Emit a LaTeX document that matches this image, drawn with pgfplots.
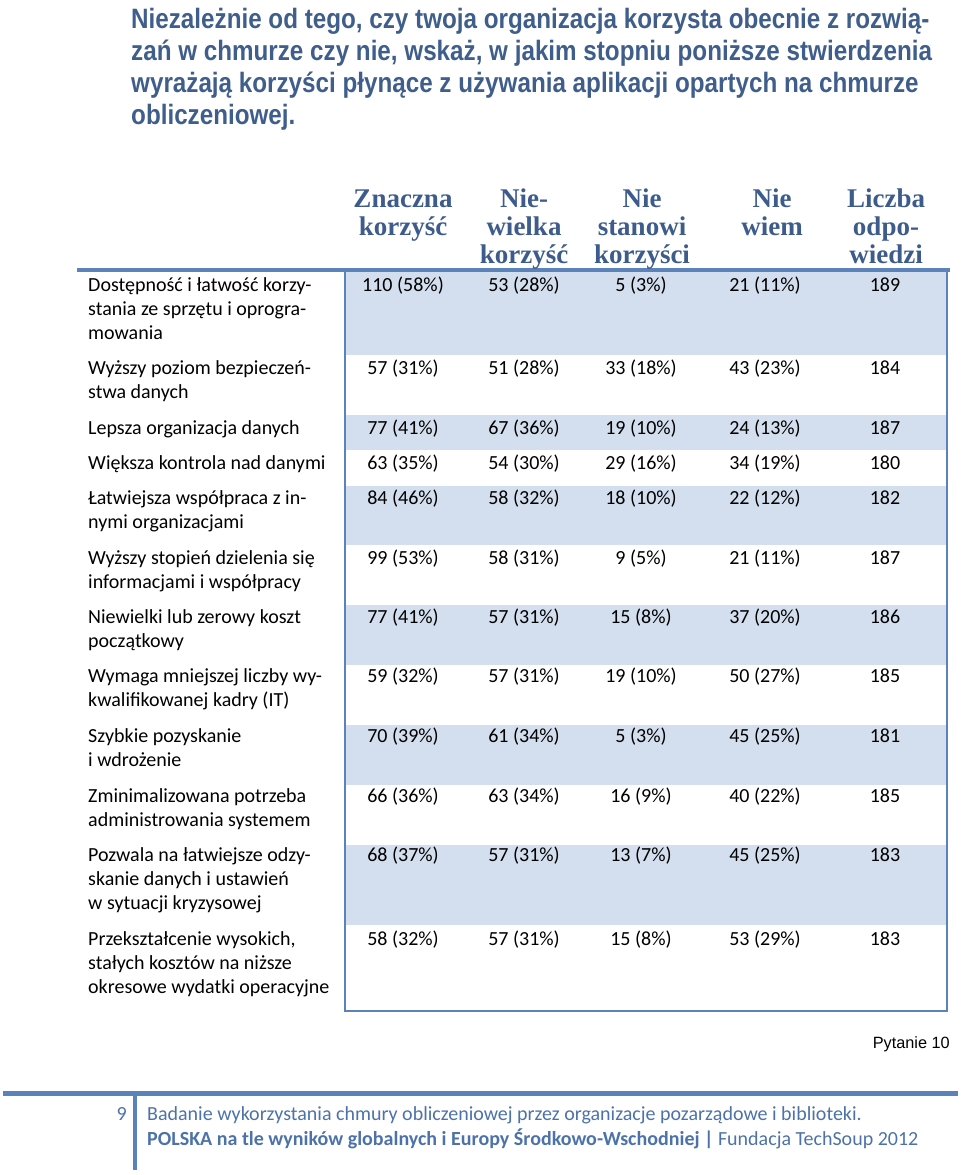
\documentclass[border=0pt]{standalone}
\usepackage{pgfplots}
\usepackage{pgfplotstable}
\pgfplotsset{compat=1.18}
\usepackage{fontspec}
\setmainfont{Carlito}
\newfontfamily\titlefont[FakeStretch=0.865]{Liberation Sans}
\newfontfamily\headfont{Liberation Serif}
\newfontfamily\arialfont{Liberation Sans}
\definecolor{titleblue}{HTML}{3F5E8C}
\definecolor{headblue}{HTML}{3D5C8C}
\definecolor{lineblue}{HTML}{5B83BA}
\definecolor{shade}{HTML}{D3DFEE}
\definecolor{footblue}{HTML}{4C72A9}
\newcommand\tabfont{\fontsize{20}{24}\selectfont}
\newcommand\hfont{\headfont\bfseries\fontsize{27}{28}\selectfont\color{headblue}}
\newcommand\tfont{\titlefont\bfseries\fontsize{28}{32}\selectfont\color{titleblue}}
\newcommand\pn[1]{\pgfmathprintnumber[fixed,precision=0]{#1}}
\pgfplotstableread{
y   n1  p1  n2  p2  n3  p3  n4  p4  tot
291 110 58  53  28  5   3   21  11  189
374 57  31  51  28  33  18  43  23  184
434 77  41  67  36  19  10  24  13  187
469 63  35  54  30  29  16  34  19  180
504 84  46  58  32  18  10  22  12  182
564 99  53  58  31  9   5   21  11  187
623 77  41  57  31  15  8   37  20  186
682 59  32  57  31  19  10  50  27  185
742 70  39  61  34  5   3   45  25  181
802 66  36  63  34  16  9   40  22  185
861 68  37  57  31  13  7   45  25  183
945 58  32  57  31  15  8   53  29  183
}\data
\begin{document}
\begin{tikzpicture}
\begin{axis}[
  width=960pt, height=1175pt, scale only axis,
  xmin=0, xmax=960, ymin=0, ymax=1175, y dir=reverse,
  hide axis, clip=false,
  /pgf/number format/assume math mode=true,
  every node near coord/.append style={anchor=base, inner sep=0pt, font=\tabfont, text=black},
]
\path (axis cs:0,0) rectangle (axis cs:960,1175);
% shaded bands
\addplot[fill=shade, draw=none] coordinates {(345,272) (947,272) (947,355) (345,355)} -- cycle;
\addplot[fill=shade, draw=none] coordinates {(345,415) (947,415) (947,450) (345,450)} -- cycle;
\addplot[fill=shade, draw=none] coordinates {(345,486) (947,486) (947,545) (345,545)} -- cycle;
\addplot[fill=shade, draw=none] coordinates {(345,605) (947,605) (947,665) (345,665)} -- cycle;
\addplot[fill=shade, draw=none] coordinates {(345,725) (947,725) (947,785) (345,785)} -- cycle;
\addplot[fill=shade, draw=none] coordinates {(345,845) (947,845) (947,925) (345,925)} -- cycle;
% table frame
\addplot[draw=lineblue, line width=2pt] coordinates {(345,270) (345,1011) (947,1011) (947,270)};
\addplot[draw=lineblue, line width=4pt] coordinates {(77,270) (950,270)};
% footer lines
\addplot[draw=lineblue, line width=5pt] coordinates {(3,1093) (958,1093)};
\addplot[draw=lineblue, line width=4pt] coordinates {(135,1093) (135,1170)};
% data cells
\addplot[draw=none, mark=none, nodes near coords={\pn{\nn}\ (\pn{\pp}\%)},
  visualization depends on={\thisrow{n1}\as\nn},
  visualization depends on={\thisrow{p1}\as\pp}] table[x expr=403, y=y] {\data};
\addplot[draw=none, mark=none, nodes near coords={\pn{\nn}\ (\pn{\pp}\%)},
  visualization depends on={\thisrow{n2}\as\nn},
  visualization depends on={\thisrow{p2}\as\pp}] table[x expr=524, y=y] {\data};
\addplot[draw=none, mark=none, nodes near coords={\pn{\nn}\ (\pn{\pp}\%)},
  visualization depends on={\thisrow{n3}\as\nn},
  visualization depends on={\thisrow{p3}\as\pp}] table[x expr=641, y=y] {\data};
\addplot[draw=none, mark=none, nodes near coords={\pn{\nn}\ (\pn{\pp}\%)},
  visualization depends on={\thisrow{n4}\as\nn},
  visualization depends on={\thisrow{p4}\as\pp}] table[x expr=765, y=y] {\data};
\addplot[draw=none, mark=none, nodes near coords={\pn{\nn}},
  visualization depends on={\thisrow{tot}\as\nn}] table[x expr=885, y=y] {\data};
% title
\node[anchor=base west, inner sep=0pt, font=\tfont] at (axis cs:131,28) {Niezależnie od tego, czy twoja organizacja korzysta obecnie z rozwią-};
\node[anchor=base west, inner sep=0pt, font=\tfont] at (axis cs:131,60) {zań w chmurze czy nie, wskaż, w jakim stopniu poniższe stwierdzenia};
\node[anchor=base west, inner sep=0pt, font=\tfont] at (axis cs:131,92) {wyrażają korzyści płynące z używania aplikacji opartych na chmurze};
\node[anchor=base west, inner sep=0pt, font=\tfont] at (axis cs:131,124) {obliczeniowej.};
% headers
\node[anchor=base, inner sep=0pt, font=\hfont] at (axis cs:403,207) {Znaczna};
\node[anchor=base, inner sep=0pt, font=\hfont] at (axis cs:403,235) {korzyść};
\node[anchor=base, inner sep=0pt, font=\hfont] at (axis cs:524,207) {Nie-};
\node[anchor=base, inner sep=0pt, font=\hfont] at (axis cs:524,235) {wielka};
\node[anchor=base, inner sep=0pt, font=\hfont] at (axis cs:524,263) {korzyść};
\node[anchor=base, inner sep=0pt, font=\hfont] at (axis cs:642,207) {Nie};
\node[anchor=base, inner sep=0pt, font=\hfont] at (axis cs:642,235) {stanowi};
\node[anchor=base, inner sep=0pt, font=\hfont] at (axis cs:642,263) {korzyści};
\node[anchor=base, inner sep=0pt, font=\hfont] at (axis cs:772,207) {Nie};
\node[anchor=base, inner sep=0pt, font=\hfont] at (axis cs:772,235) {wiem};
\node[anchor=base, inner sep=0pt, font=\hfont] at (axis cs:886,207) {Liczba};
\node[anchor=base, inner sep=0pt, font=\hfont] at (axis cs:886,235) {odpo-};
\node[anchor=base, inner sep=0pt, font=\hfont] at (axis cs:886,263) {wiedzi};
% row labels
\begin{scope}[every node/.style={anchor=base west, inner sep=0pt, font=\tabfont}]
\node at (axis cs:88,291) {Dostępność i łatwość korzy-};
\node at (axis cs:88,315) {stania ze sprzętu i oprogra-};
\node at (axis cs:88,339) {mowania};
\node at (axis cs:88,374) {Wyższy poziom bezpieczeń-};
\node at (axis cs:88,398) {stwa danych};
\node at (axis cs:88,434) {Lepsza organizacja danych};
\node at (axis cs:88,469) {Większa kontrola nad danymi};
\node at (axis cs:88,504) {Łatwiejsza współpraca z in-};
\node at (axis cs:88,528) {nymi organizacjami};
\node at (axis cs:88,564) {Wyższy stopień dzielenia się};
\node at (axis cs:88,588) {informacjami i współpracy};
\node at (axis cs:88,623) {Niewielki lub zerowy koszt};
\node at (axis cs:88,647) {początkowy};
\node at (axis cs:88,682) {Wymaga mniejszej liczby wy-};
\node at (axis cs:88,706) {kwalifikowanej kadry (IT)};
\node at (axis cs:88,742) {Szybkie pozyskanie};
\node at (axis cs:88,766) {i wdrożenie};
\node at (axis cs:88,802) {Zminimalizowana potrzeba};
\node at (axis cs:88,826) {administrowania systemem};
\node at (axis cs:88,861) {Pozwala na łatwiejsze odzy-};
\node at (axis cs:88,885) {skanie danych i ustawień};
\node at (axis cs:88,909) {w sytuacji kryzysowej};
\node at (axis cs:88,945) {Przekształcenie wysokich,};
\node at (axis cs:88,969) {stałych kosztów na niższe};
\node at (axis cs:88,993) {okresowe wydatki operacyjne};
\end{scope}
% question number
\node[anchor=base east, inner sep=0pt, font=\arialfont\fontsize{16.3}{18}\selectfont] at (axis cs:950,1048) {Pytanie 10};
% footer
\node[anchor=base east, inner sep=0pt, font=\fontsize{20}{24}\selectfont, text=footblue] at (axis cs:127,1120) {9};
\node[anchor=base west, inner sep=0pt, font=\fontsize{20}{24}\selectfont, text=footblue] at (axis cs:147,1120) {Badanie wykorzystania chmury obliczeniowej przez organizacje pozarządowe i biblioteki.};
\node[anchor=base west, inner sep=0pt, font=\fontsize{20}{24}\selectfont, text=footblue] at (axis cs:147,1145) {\textbf{POLSKA na tle wyników globalnych i Europy Środkowo-Wschodniej |} Fundacja TechSoup 2012};
\end{axis}
\end{tikzpicture}
\end{document}
